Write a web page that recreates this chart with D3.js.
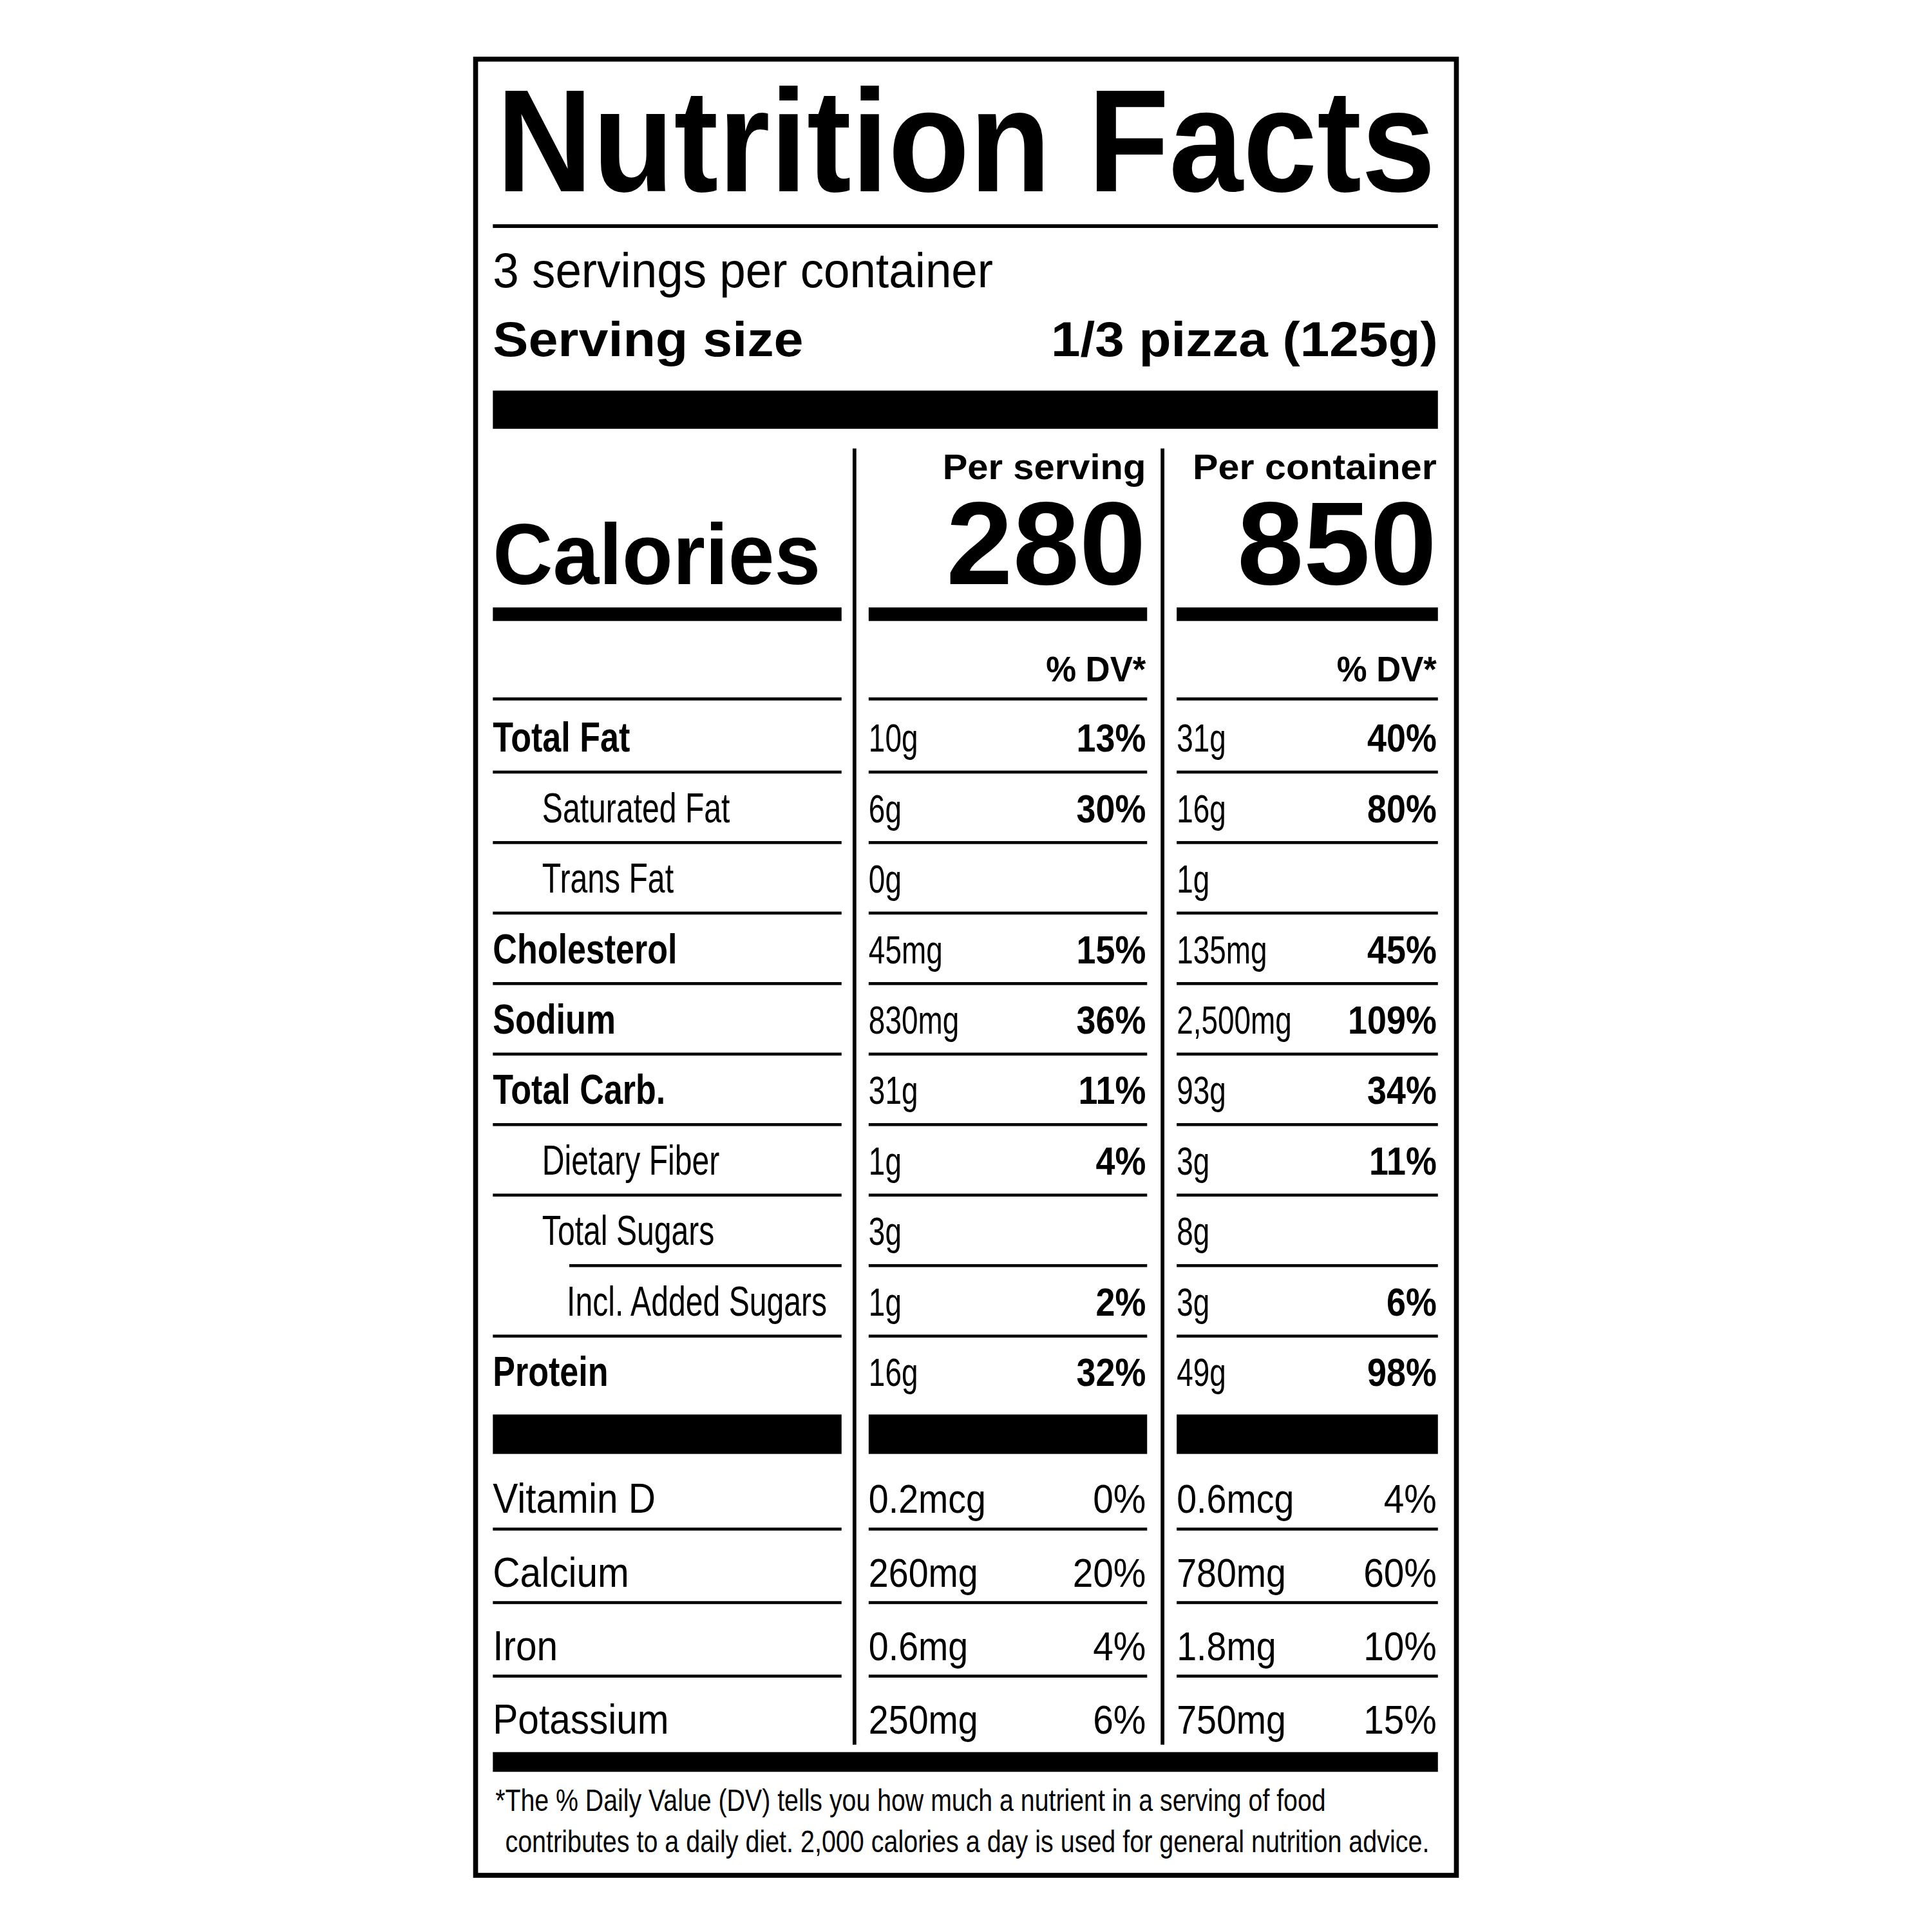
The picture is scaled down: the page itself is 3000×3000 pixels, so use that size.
<!DOCTYPE html><html><head><meta charset="utf-8">
<script src="https://cdn.jsdelivr.net/npm/d3@7"></script>
<style>body{margin:0;background:#fff}</style></head><body><svg id="c" width="3000" height="3000"></svg>
<script>
const nutrients=["Total Fat","Saturated Fat","Trans Fat","Cholesterol","Sodium","Total Carb.","Dietary Fiber","Total Sugars","Incl. Added Sugars","Protein"];
const indent=[0,1,1,0,0,0,1,1,2,0];
const servAmt=["10g","6g","0g","45mg","830mg","31g","1g","3g","1g","16g"];
const servDV=["13%","30%","","15%","36%","11%","4%","","2%","32%"];
const contAmt=["31g","16g","1g","135mg","2,500mg","93g","3g","8g","3g","49g"];
const contDV=["40%","80%","","45%","109%","34%","11%","","6%","98%"];
const vitamins=["Vitamin D","Calcium","Iron","Potassium"];
const vServAmt=["0.2mcg","260mg","0.6mg","250mg"];
const vServDV=["0%","20%","4%","6%"];
const vContAmt=["0.6mcg","780mg","1.8mg","750mg"];
const vContDV=["4%","60%","10%","15%"];

const svg=d3.select("#c");
const g=svg.append("g").attr("transform","scale("+(3000/1568)+")");
const F="'Liberation Sans',Arial,sans-serif";
function t(x,y,s,size,opt={}){const e=g.append("text").attr("x",x).attr("y",y).text(s)
 .attr("font-family",F).attr("font-size",size).attr("font-weight",opt.b?"bold":"normal")
 .attr("text-anchor",opt.a||"start").attr("fill","#000");
 if(opt.len)e.attr("textLength",opt.len).attr("lengthAdjust","spacingAndGlyphs");
 else if(opt.k&&s){const w=e.node().getComputedTextLength();e.attr("textLength",w*opt.k).attr("lengthAdjust","spacingAndGlyphs");}
 return e;}
function r(x1,y1,x2,y2){g.append("rect").attr("x",x1).attr("y",y1).attr("width",x2-x1).attr("height",y2-y1).attr("fill","#000");}

g.append("rect").attr("x",386).attr("y",48).attr("width",796).attr("height",1474).attr("fill","none").attr("stroke","#000").attr("stroke-width",4);
t(403,155,"Nutrition Facts",118,{b:1,len:762});
r(400,182,1167,185);
t(400,233,"3 servings per container",40,{len:406});
t(400,289,"Serving size",40,{b:1,len:252});
t(1167,289,"1/3 pizza (125g)",40,{b:1,a:"end",len:314});
r(400,317,1167,348);
r(692,364,695,1416);r(942,364,945,1416);
t(930,389,"Per serving",29,{b:1,a:"end",len:165});
t(1166,389,"Per container",29,{b:1,a:"end",len:198});
t(400,474,"Calories",70,{b:1,len:266});
t(930,474,"280",96,{b:1,a:"end",len:162});
t(1166,474,"850",96,{b:1,a:"end",len:162});
const segs=[[400,683],[705,931],[955,1167]];
segs.forEach(s=>r(s[0],493,s[1],504));
t(930,553,"% DV*",29,{b:1,a:"end",k:0.95});
t(1166,553,"% DV*",29,{b:1,a:"end",k:0.95});
segs.forEach(s=>r(s[0],566,s[1],568.5));

const y=d3.scalePoint().domain(nutrients).range([610,1125]);
const step=y.step();
nutrients.forEach((n,i)=>{
 const yy=y(n), bold=indent[i]===0;
 t(400+[0,40,60][indent[i]],yy,n,34,{b:bold,k:bold?0.8:0.74});
 t(705,yy,servAmt[i],32,{k:0.75});
 t(930,yy,servDV[i],32,{b:1,a:"end",k:0.88});
 t(955,yy,contAmt[i],32,{k:0.75});
 t(1166,yy,contDV[i],32,{b:1,a:"end",k:0.88});
 if(i<nutrients.length-1){const ly=yy+step/2-12;
  const li=indent[i+1]===2?462:400;
  r(li,ly-1.2,683,ly+1.2);r(705,ly-1.2,931,ly+1.2);r(955,ly-1.2,1167,ly+1.2);}
});
segs.forEach(s=>r(s[0],1148,s[1],1180));
const yv=d3.scalePoint().domain(vitamins).range([1228,1407]);
vitamins.forEach((n,i)=>{
 const yy=yv(n);
 t(400,yy,n,34,{k:0.9});
 t(705,yy,vServAmt[i],33,{k:0.88});
 t(930,yy,vServDV[i],33,{a:"end",k:0.9});
 t(955,yy,vContAmt[i],33,{k:0.88});
 t(1166,yy,vContDV[i],33,{a:"end",k:0.9});
 if(i<vitamins.length-1){const ly=yy+13;segs.forEach(s=>r(s[0],ly-1.2,s[1],ly+1.2));}
});
r(400,1422,1167,1438);
t(402,1470,"*The % Daily Value (DV) tells you how much a nutrient in a serving of food",25,{len:674});
t(410,1503,"contributes to a daily diet. 2,000 calories a day is used for general nutrition advice.",25,{len:750});
</script></body></html>
